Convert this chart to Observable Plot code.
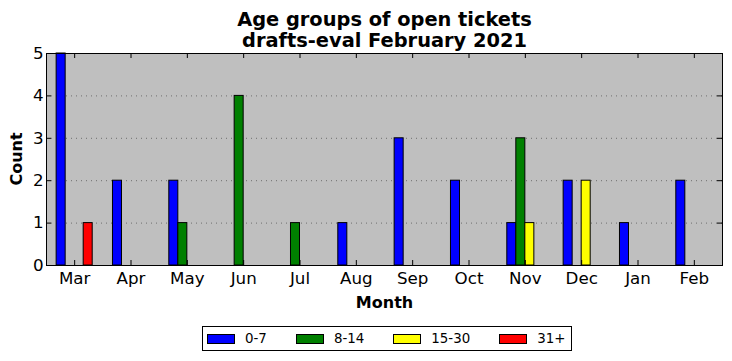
<!DOCTYPE html>
<html>
<head>
<meta charset="utf-8">
<script src="https://cdn.jsdelivr.net/npm/d3@7"></script>
<script src="https://cdn.jsdelivr.net/npm/@observablehq/plot@0.6"></script>
<style>
  html, body { margin: 0; padding: 0; background: #fff; }
  body { font-family: "DejaVu Sans", sans-serif; }
  #wrap { position: relative; width: 732px; height: 361px; overflow: hidden; }
  #chart { position: absolute; left: 0; top: 0; }
  #title { position: absolute; left: 46px; width: 677px; top: 9px; text-align: center;
           font-weight: bold; font-size: 19.4px; line-height: 21px; color: #000; }
  #legend { position: absolute; left: 202px; top: 326px; height: 23px; border: 1px solid #000;
            display: flex; align-items: center; padding: 0 6px 0 4px; font-size: 13.4px; background: #fff; }
  .item { display: flex; align-items: center; margin-right: 29px; }
  .item:last-child { margin-right: 0; }
  .sw { width: 28px; height: 10px; box-sizing: border-box; border: 1px solid #000; margin-right: 10px; }
</style>
</head>
<body>
<div id="wrap">
  <div id="chart"></div>
  <div id="title">Age groups of open tickets<br>drafts-eval February 2021</div>
  <div id="legend"></div>
</div>
<script>
const months = ["Mar","Apr","May","Jun","Jul","Aug","Sep","Oct","Nov","Dec","Jan","Feb"];
const seriesNames = ["0-7","8-14","15-30","31+"];
const seriesColors = ["blue","green","yellow","red"];
const age0_7   = [5,2,2,0,0,1,3,2,1,2,1,2];
const age8_14  = [0,0,1,4,1,0,0,0,3,0,0,0];
const age15_30 = [0,0,0,0,0,0,0,0,1,2,0,0];
const age31p   = [1,0,0,0,0,0,0,0,0,0,0,0];
const yTicks = [0,1,2,3,4,5];
const gridLines = [1,2,3,4];

const seriesValues = [age0_7, age8_14, age15_30, age31p];
const barW = 0.16;
const bars = [];
seriesValues.forEach((vals, k) => {
  vals.forEach((v, i) => {
    if (v > 0) {
      const x1 = i - 2 * barW + k * barW;
      bars.push({month: months[i], series: seriesNames[k], x1, x2: x1 + barW, value: v});
    }
  });
});
const monthIdx = months.map((m, i) => i);
const tx = 5 / 56.33;   // tick length in x units
const ty = 5 / 42.4;    // tick length in y units

const chart = Plot.plot({
  width: 732,
  height: 318,
  marginLeft: 46,
  marginRight: 10,
  marginTop: 53,
  marginBottom: 53,
  style: {fontFamily: "DejaVu Sans", fontSize: "16.7px", color: "#000", background: "transparent", overflow: "visible"},
  x: {type: "linear", domain: [-0.5, 11.5], ticks: monthIdx, tickFormat: i => months[i], tickSize: 0, tickPadding: 7, label: null},
  y: {domain: [0, 5], ticks: yTicks, tickSize: 0, tickPadding: 3, label: null, tickFormat: d => String(d)},
  color: {domain: seriesNames, range: seriesColors},
  marks: [
    Plot.frame({fill: "#bfbfbf", stroke: null}),
    Plot.ruleY(gridLines, {y: d => d, stroke: "#6e6e6e", strokeWidth: 1, strokeDasharray: "1,4"}),
    Plot.rect(bars, {x1: "x1", x2: "x2", y1: 0, y2: "value", fill: "series", stroke: "black", strokeWidth: 1}),
    Plot.ruleX(monthIdx, {x: d => d, y1: 0, y2: ty, stroke: "black"}),
    Plot.ruleX(monthIdx, {x: d => d, y1: 5, y2: 5 - ty, stroke: "black"}),
    Plot.ruleY(yTicks, {y: d => d, x1: -0.5, x2: -0.5 + tx, stroke: "black"}),
    Plot.ruleY(yTicks, {y: d => d, x1: 11.5, x2: 11.5 - tx, stroke: "black"}),
    Plot.frame({stroke: "black", strokeWidth: 1})
  ]
});
document.getElementById("chart").appendChild(chart);

const svg = d3.select(chart);
svg.append("text")
  .attr("x", 384.5).attr("y", 308)
  .attr("text-anchor", "middle")
  .attr("font-weight", "bold").attr("font-size", 16)
  .attr("font-family", "DejaVu Sans")
  .text("Month");
svg.append("text")
  .attr("transform", "translate(22,159) rotate(-90)")
  .attr("text-anchor", "middle")
  .attr("font-weight", "bold").attr("font-size", 16)
  .attr("font-family", "DejaVu Sans")
  .text("Count");

const legend = d3.select("#legend");
seriesNames.forEach((name, k) => {
  const it = legend.append("div").attr("class", "item");
  it.append("div").attr("class", "sw").style("background", seriesColors[k]);
  it.append("span").text(name);
});
</script>
</body>
</html>
